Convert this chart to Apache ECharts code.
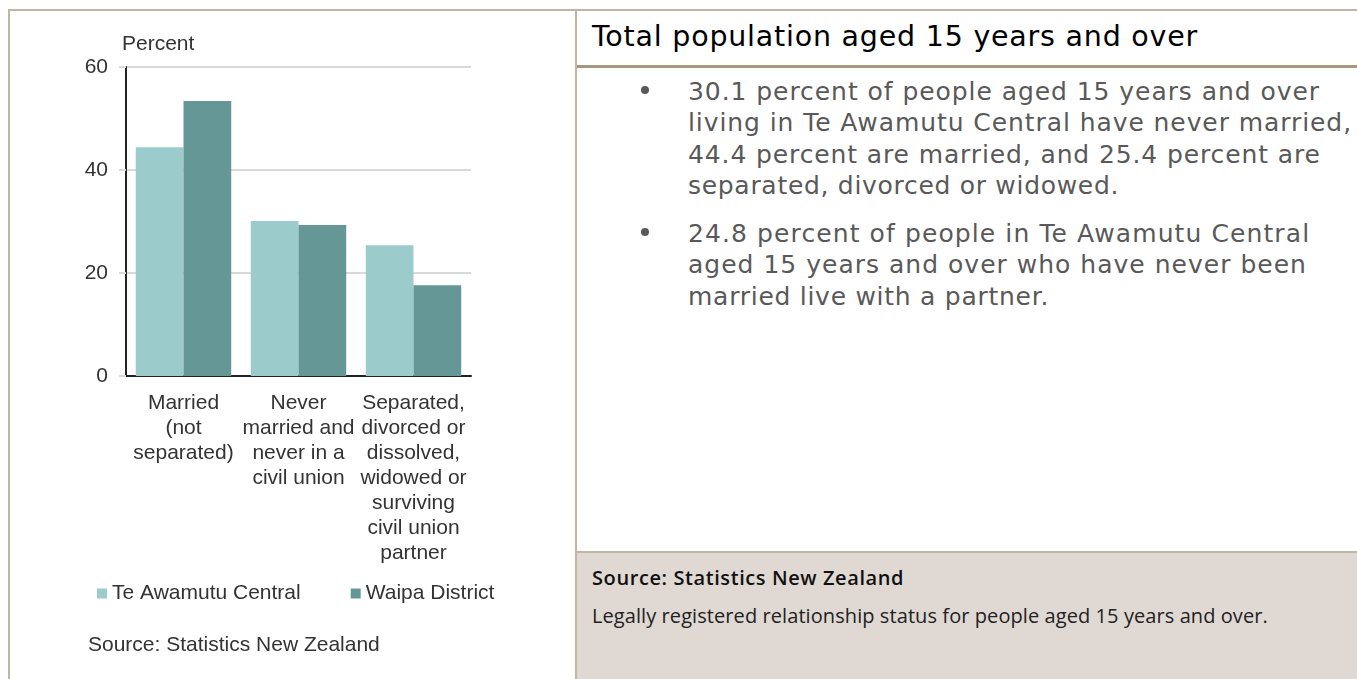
<!DOCTYPE html>
<html>
<head>
<meta charset="utf-8">
<script src="https://cdn.jsdelivr.net/npm/echarts@6/dist/echarts.min.js"></script>
<style>
  html, body { margin:0; padding:0; width:1357px; height:679px; overflow:hidden; background:#fff; }
  #chart { position:absolute; left:0; top:0; width:576px; height:679px; }
  .line { position:absolute; background:#c2b5a5; }
  .t { position:absolute; white-space:nowrap; font-family:"DejaVu Sans","Open Sans",sans-serif; }
  #title { left:592px; top:17px; font-size:28.5px; color:#000; line-height:40px; }
  .b { left:688px; font-size:25px; color:#595959; line-height:31.5px; }
  .dot { position:absolute; width:8px; height:8px; border-radius:50%; background:#595959; }
  #note { position:absolute; left:577px; top:553px; width:780px; height:126px; background:#e0d9d3; }
  #src2 { left:592px; top:566px; font-size:20px; font-weight:600; color:#111; line-height:24px; font-family:"Open Sans","Noto Sans",sans-serif; }
  #desc { left:592px; top:604px; font-size:20px; color:#222; line-height:24px; font-family:"Open Sans","Noto Sans",sans-serif; }
</style>
</head>
<body>
<div class="line" style="left:8px;top:9px;width:1349px;height:2px;"></div>
<div class="line" style="left:8px;top:9px;width:2px;height:670px;"></div>
<div class="line" style="left:575px;top:9px;width:2px;height:670px;"></div>
<div class="line" style="left:577px;top:65px;width:780px;height:3px;background:#a8977f;"></div>
<div id="note"></div>
<div class="line" style="left:577px;top:551px;width:780px;height:2px;"></div>
<div id="chart"></div>
<div id="title" class="t" data-w="606">Total population aged 15 years and over</div>
<div class="dot" style="left:641px;top:86px;"></div>
<div class="dot" style="left:641px;top:228px;"></div>
<div class="t b" style="top:75.5px;" data-w="632">30.1 percent of people aged 15 years and over</div>
<div class="t b" style="top:107px;" data-w="664">living in Te Awamutu Central have never married,</div>
<div class="t b" style="top:138.5px;" data-w="633">44.4 percent are married, and 25.4 percent are</div>
<div class="t b" style="top:170px;" data-w="431">separated, divorced or widowed.</div>
<div class="t b" style="top:217.5px;" data-w="622">24.8 percent of people in Te Awamutu Central</div>
<div class="t b" style="top:249px;" data-w="619">aged 15 years and over who have never been</div>
<div class="t b" style="top:280.5px;" data-w="361">married live with a partner.</div>
<div id="src2" class="t" data-w="312">Source: Statistics New Zealand</div>
<div id="desc" class="t" data-w="676">Legally registered relationship status for people aged 15 years and over.</div>
<script>
const categories = [
  'Married\n(not\nseparated)',
  'Never\nmarried and\nnever in a\ncivil union',
  'Separated,\ndivorced or\ndissolved,\nwidowed or\nsurviving\ncivil union\npartner'
];
const seriesNames = ['Te Awamutu Central', 'Waipa District'];
const teAwamutuCentral = [44.4, 30.1, 25.4];
const waipaDistrict = [53.4, 29.3, 17.6];
const yAxisName = 'Percent';
const sourceText = 'Source: Statistics New Zealand';

// fit right-panel text widths to the reference via letter spacing
document.querySelectorAll('[data-w]').forEach(function (el) {
  const target = parseFloat(el.getAttribute('data-w'));
  const w = el.getBoundingClientRect().width;
  const n = el.textContent.length;
  el.style.letterSpacing = ((target - w) / n).toFixed(2) + 'px';
});

const font = '"Liberation Sans", Arial, sans-serif';
const chart = echarts.init(document.getElementById('chart'), null, { renderer: 'canvas' });
chart.setOption({
  animation: false,
  backgroundColor: 'transparent',
  color: ['#9ccbcc', '#669797'],
  grid: { left: 126, top: 67, width: 345, height: 309, containLabel: false },
  legend: {
    left: 92, top: 578, itemWidth: 10, itemHeight: 10, itemGap: 50, icon: 'rect',
    textStyle: { fontFamily: font, fontSize: 21, color: '#333' },
    data: seriesNames
  },
  title: {
    text: sourceText, left: 83, top: 630,
    textStyle: { fontFamily: font, fontSize: 21, fontWeight: 'normal', color: '#333' }
  },
  xAxis: {
    type: 'category', data: categories,
    axisLine: { lineStyle: { color: '#222', width: 2 } },
    axisTick: { show: false },
    axisLabel: { interval: 0, margin: 15, fontFamily: font, fontSize: 21, lineHeight: 25, color: '#333' }
  },
  yAxis: {
    type: 'value', min: 0, max: 60, interval: 20,
    name: yAxisName, nameLocation: 'end', nameGap: 12,
    nameTextStyle: { fontFamily: font, fontSize: 21, color: '#333', align: 'left', padding: [0, 0, 0, -4] },
    axisLine: { show: true, lineStyle: { color: '#222', width: 2 } },
    axisTick: { show: true, length: 7, lineStyle: { color: '#d9d9d9', width: 2 } },
    splitLine: { lineStyle: { color: '#d9d9d9', width: 2 } },
    axisLabel: { margin: 18, fontFamily: font, fontSize: 21, color: '#333' }
  },
  series: [
    { name: seriesNames[0], type: 'bar', data: teAwamutuCentral, barGap: '0%', barCategoryGap: '17%' },
    { name: seriesNames[1], type: 'bar', data: waipaDistrict, barGap: '0%', barCategoryGap: '17%' }
  ]
});
</script>
</body>
</html>
